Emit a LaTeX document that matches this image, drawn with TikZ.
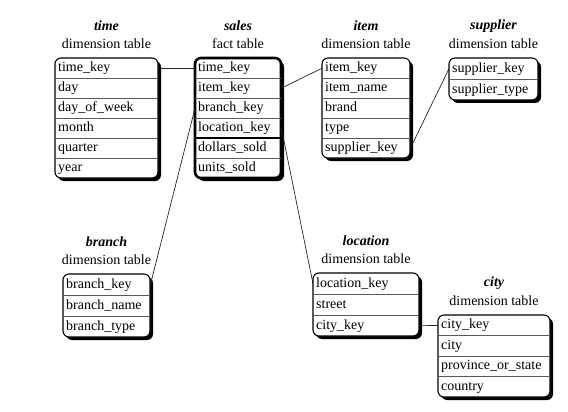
\documentclass[tikz,border=0pt]{standalone}
\usepackage{fontspec}
\setmainfont{Liberation Serif}
\tikzset{
  row/.style={anchor=north west, inner xsep=3pt, inner ysep=0pt, align=left,
    text height=10pt, text depth=3pt, font=\fontsize{14}{16}\selectfont},
  ttl/.style={font=\fontsize{14}{16}\selectfont\bfseries\itshape, inner sep=0pt},
  sub/.style={font=\fontsize{14}{16}\selectfont, inner sep=0pt},
  sep/.style={draw=black!65, line width=0.6pt},
  conn/.style={draw=black!85, line width=0.7pt},
  shadowbox/.style={fill=black, rounded corners=6pt},
  frame/.style={draw=black, line width=1.1pt, fill=white, rounded corners=6pt},
}
% #1 name, #2 x, #3 y, #4 width, #5 row height, #6 rows, #7 title, #8 subtitle, #9 fields
\newcommand{\dimtab}[9]{%
  \fill[shadowbox] ({#2+3},{#3+3}) rectangle ({#2+#4+3},{#3+#6*#5+3});
  \draw[frame] (#2,#3) rectangle ({#2+#4},{#3+#6*#5});
  \pgfmathsetmacro\tabtw{#4-6}
  \foreach \f [count=\i] in {#9} {
    \node[row, text width=\tabtw pt, minimum height=#5pt] (#1-\i) at (#2,{#3+(\i-1)*#5}) {\f};
  }
  \foreach \i in {2,...,#6} {\draw[sep] (#1-\i.north west) -- (#1-\i.north east);}
  \node[ttl] (#1-title) at ({#2+#4/2},{#3-32}) {#7};
  \node[sub] (#1-sub) at ({#2+#4/2},{#3-14}) {#8};
}
\begin{document}
\begin{tikzpicture}[x=1pt,y=-1pt]
\useasboundingbox (0,0) rectangle (568,412);
\dimtab{time}{55}{58}{103}{20}{6}{time}{dimension table}{time\_key,day,day\_of\_week,month,quarter,year}
\begin{scope}[frame/.append style={line width=2.6pt}]
\dimtab{sales}{195}{58}{86}{20}{6}{sales}{fact table}{time\_key,item\_key,branch\_key,location\_key,dollars\_sold,units\_sold}
\end{scope}
\draw[line width=1.1pt] (sales-5.north west) -- (sales-5.north east);
\dimtab{item}{322}{58}{88}{20}{5}{item}{dimension table}{item\_key,item\_name,brand,type,supplier\_key}
\dimtab{supplier}{449}{58}{89}{21}{2}{supplier}{dimension table}{supplier\_key,supplier\_type}
\dimtab{branch}{63}{274}{87}{21}{3}{branch}{dimension table}{branch\_key,branch\_name,branch\_type}
\dimtab{location}{313}{273}{106}{21}{3}{location}{dimension table}{location\_key,street,city\_key}
\dimtab{city}{438}{315}{112}{20.5}{4}{city}{dimension table}{city\_key,city,province\_or\_state,country}
\draw[conn] (time-1.east) -- (sales-1.west);
\draw[conn] (sales-2.east) -- (item-1.west);
\draw[conn] (item-5.east) -- (supplier-1.west);
\draw[conn] (sales-3.west) -- (branch-1.east);
\draw[conn] (sales-4.east) -- (location-1.west);
\draw[conn] (location-3.east) -- (city-1.west);
\end{tikzpicture}
\end{document}
